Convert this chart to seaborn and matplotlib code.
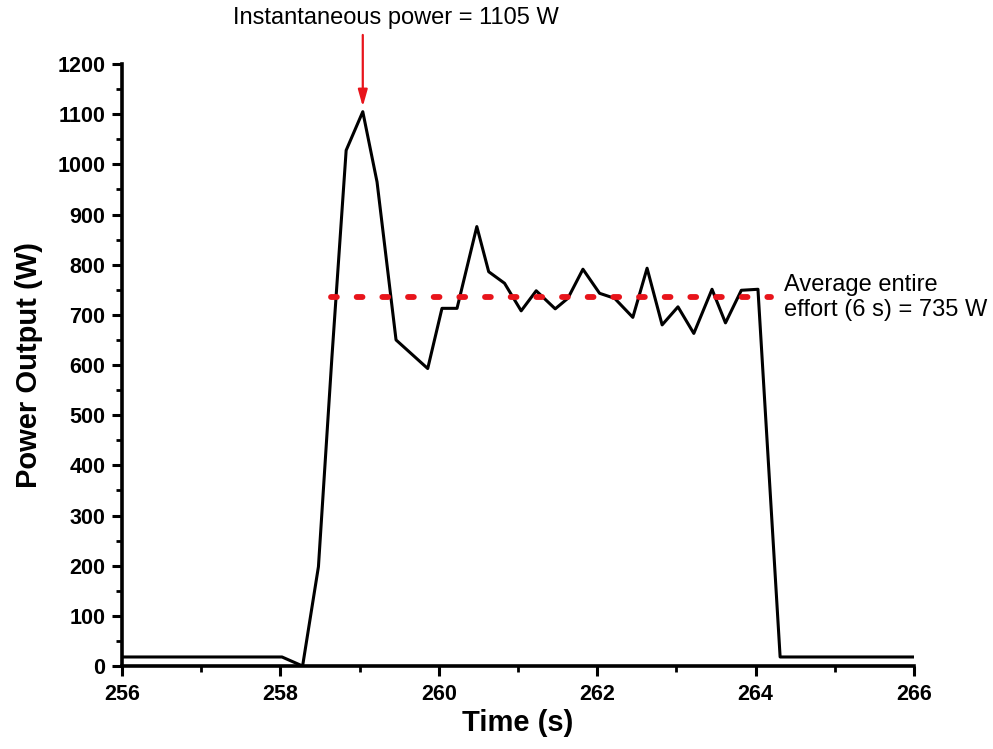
import numpy as np
import pandas as pd
import matplotlib
matplotlib.use("Agg")
import matplotlib.pyplot as plt
import seaborn as sns
from matplotlib.ticker import MultipleLocator

# ---- data ----
time_s = [256.0, 258.02, 258.28, 258.48, 258.65, 258.83, 259.04, 259.22, 259.46,
          259.86, 260.04, 260.23, 260.48, 260.63, 260.83, 261.04, 261.23, 261.47,
          261.63, 261.82, 262.03, 262.22, 262.45, 262.63, 262.82, 263.02, 263.22,
          263.45, 263.62, 263.82, 264.03, 264.31, 266.0]
power_w = [18, 18, 0, 198, 615, 1028, 1105, 965, 650,
           593, 713, 713, 876, 786, 763, 708, 748, 712,
           733, 791, 743, 733, 695, 793, 680, 716, 663,
           751, 684, 749, 751, 18, 18]
avg_power = 735
avg_start, avg_end = 258.64, 264.2
peak_time, peak_power = 259.04, 1105
x_ticks = [256, 258, 260, 262, 264, 266]
y_ticks = list(range(0, 1201, 100))

df = pd.DataFrame({"Time (s)": time_s, "Power Output (W)": power_w})

sns.set_style("ticks")
plt.rcParams["font.family"] = ["Liberation Sans", "DejaVu Sans"]
plt.rcParams["text.color"] = "black"
plt.rcParams["axes.labelcolor"] = "black"
plt.rcParams["xtick.color"] = "black"
plt.rcParams["ytick.color"] = "black"

fig = plt.figure(figsize=(9.93, 7.49), dpi=100)
ax = fig.add_axes([0.1229, 0.1108, 0.7975, 0.8037])

sns.lineplot(data=df, x="Time (s)", y="Power Output (W)", ax=ax,
             color="black", linewidth=2.2, estimator=None, sort=False)

ax.plot([avg_start, avg_end], [avg_power, avg_power], color="#e8141b",
        linewidth=4.2, linestyle=(0, (1.0, 3.4)), dash_capstyle="round")

ax.set_xlim(256, 266)
ax.set_ylim(0, 1200)
ax.set_xticks(x_ticks)
ax.set_yticks(y_ticks)
ax.xaxis.set_minor_locator(MultipleLocator(1))
ax.yaxis.set_minor_locator(MultipleLocator(50))

for s in ["top", "right"]:
    ax.spines[s].set_visible(False)
for s in ["left", "bottom"]:
    ax.spines[s].set_linewidth(2.6)
    ax.spines[s].set_color("black")

ax.tick_params(axis="both", which="major", length=7, width=2.2, color="black",
               direction="out", labelcolor="black")
ax.tick_params(axis="both", which="minor", length=4.5, width=2.0, color="black",
               direction="out")
ax.tick_params(axis="y", which="major", pad=5)
ax.tick_params(axis="x", which="major", pad=6)

for lab in ax.get_yticklabels():
    lab.set_fontsize(15.5)
    lab.set_fontweight("bold")
for lab in ax.get_xticklabels():
    lab.set_fontsize(15.5)
    lab.set_fontweight("bold")

ax.set_xlabel("Time (s)", fontsize=21, fontweight="bold", labelpad=3)
ax.set_ylabel("Power Output (W)", fontsize=21, fontweight="bold", labelpad=10)

# peak annotation: vertical red arrow and title text
ax.annotate("", xy=(peak_time, peak_power + 10), xytext=(peak_time, 1258),
            annotation_clip=False,
            arrowprops=dict(arrowstyle="-|>,head_length=1.0,head_width=0.28",
                            color="#e8141b", lw=1.6, shrinkA=0, shrinkB=0))
ax.text(259.46, 1292, "Instantaneous power = 1105 W", ha="center", va="center",
        fontsize=17, clip_on=False)

ax.text(264.36, 735, "Average entire\neffort (6 s) = 735 W", ha="left",
        va="center", fontsize=17, linespacing=1.2)

fig.savefig("out.png", dpi=100, facecolor="white")
